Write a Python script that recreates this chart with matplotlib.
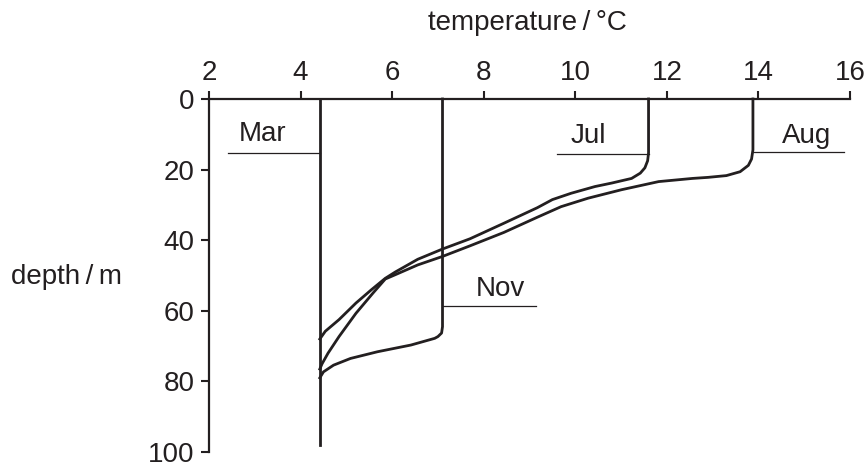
#! /usr/bin/env python3
# temperature profiles of a lake over the year, depth on the y axis
import matplotlib
matplotlib.use("Agg")
import matplotlib.pyplot as plt

plt.rcParams['font.family'] = ['Liberation Sans', 'DejaVu Sans']

ink = "#231f20"
fs = 20

# profiles (temperature in C, depth in m)
mar_temp = [4.42, 4.42]
mar_depth = [0, 98]

nov_temp = [7.10, 7.10, 7.08, 7.00, 6.93, 6.41, 5.68, 5.09, 4.72, 4.50, 4.42]
nov_depth = [0, 64.5, 66.3, 67.3, 67.8, 69.7, 71.6, 73.5, 75.4, 77.3, 79.0]

jul_temp = [11.60, 11.60, 11.58, 11.52, 11.42, 11.23, 10.80, 10.43, 9.91, 9.50,
            9.17, 8.44, 7.70, 7.10, 6.56, 6.07, 5.85, 5.55, 5.21, 4.84, 4.54, 4.42]
jul_depth = [0, 15.3, 17.5, 19.5, 21.0, 22.5, 23.8, 24.8, 26.7, 28.5,
             30.8, 35.2, 39.6, 42.5, 45.4, 49.0, 50.8, 54.0, 57.8, 62.5, 65.8, 68.0]

aug_temp = [13.88, 13.88, 13.85, 13.78, 13.60, 13.30, 12.90, 12.56, 11.82, 11.01,
            10.28, 9.69, 9.17, 8.44, 7.70, 7.10, 6.56, 6.10, 5.85, 5.58, 5.21,
            4.84, 4.60, 4.47, 4.42]
aug_depth = [0, 14.4, 17.0, 18.8, 20.6, 21.7, 22.2, 22.5, 23.4, 25.7,
             28.1, 30.5, 33.5, 37.8, 41.6, 44.6, 47.0, 49.6, 51.0, 55.0, 60.7,
             67.3, 72.0, 75.0, 76.5]

# month labels: text position, underline (x from, x to, depth)
labels = ["Mar", "Jul", "Aug", "Nov"]
label_x = [3.17, 10.28, 15.05, 8.36]
label_y = [12.0, 12.5, 12.5, 55.7]
line_x0 = [2.41, 9.59, 13.88, 7.10]
line_x1 = [4.42, 11.60, 15.86, 9.15]
line_y = [15.2, 15.5, 15.0, 58.6]

x_ticks = [2, 4, 6, 8, 10, 12, 14, 16]
y_ticks = [0, 20, 40, 60, 80, 100]

fig = plt.figure(figsize=(8.67, 4.66), dpi=100)
ax = fig.add_axes([209 / 867, 1 - 452 / 466, (850 - 209) / 867, (452 - 99) / 466])

for t, d in [(mar_temp, mar_depth), (nov_temp, nov_depth),
             (jul_temp, jul_depth), (aug_temp, aug_depth)]:
    ax.plot(t, d, color=ink, lw=2.0, solid_joinstyle="round", clip_on=False)

for name, tx, ty, x0, x1, ly in zip(labels, label_x, label_y, line_x0, line_x1, line_y):
    ax.text(tx, ty, name, ha="center", va="baseline", fontsize=fs, color=ink)
    ax.plot([x0, x1], [ly, ly], color=ink, lw=0.9)

ax.set_xlim(2, 16)
ax.set_ylim(100, 0)
ax.set_xticks(x_ticks)
ax.set_yticks(y_ticks)
ax.xaxis.tick_top()
ax.spines["right"].set_visible(False)
ax.spines["bottom"].set_visible(False)
for s in ["top", "left"]:
    ax.spines[s].set_linewidth(1.6)
    ax.spines[s].set_color(ink)
ax.tick_params(axis="both", direction="out", length=5.5, width=1.5,
               color=ink, labelsize=fs, labelcolor=ink)
ax.tick_params(axis="x", pad=4)
ax.tick_params(axis="y", pad=5)

fig.text(527 / 867, 1 - 23 / 466, "temperature\u2009/\u2009°C", ha="center",
         va="center", fontsize=fs, color=ink)
fig.text(11 / 867, 1 - 277 / 466, "depth\u2009/\u2009m", ha="left",
         va="center", fontsize=fs, color=ink)

plt.savefig("out.png", dpi=100)
plt.close('all')
